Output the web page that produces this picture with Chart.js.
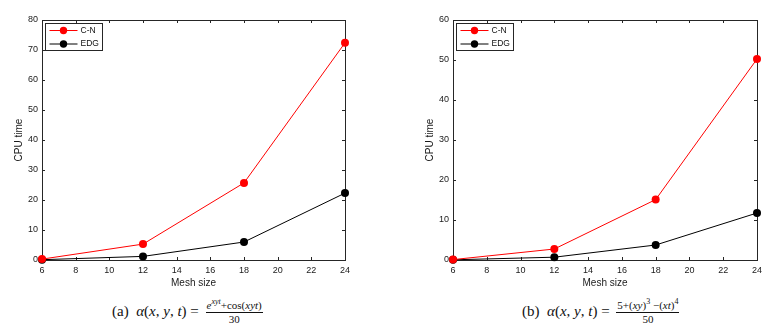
<!DOCTYPE html>
<html lang="en">
<head>
<meta charset="utf-8">
<script src="https://cdn.jsdelivr.net/npm/chart.js@4.4.1/dist/chart.umd.min.js"></script>
<style>
  body { margin: 0; background: #fff; width: 778px; height: 327px; position: relative; overflow: hidden; }
  canvas { position: absolute; top: 0; }
  #chartA { left: 0; }
  #chartB { left: 390px; }
  .cap { position: absolute; top: 299px; font-family: "Liberation Serif", "DejaVu Serif", serif;
         font-size: 15px; line-height: 24px; color: #111; white-space: nowrap; }
  .cap i { font-style: italic; }
  .frac { display: inline-block; vertical-align: middle; text-align: center; font-size: 11px; line-height: 11px; margin-left: 3px; }
  .frac .num { display: block; border-bottom: 1px solid #111; padding: 0 1px 1px; }
  .frac .den { display: block; padding-top: 1px; }
  .frac sup { font-size: 8px; line-height: 0; }
</style>
</head>
<body>
<canvas id="chartA" width="390" height="295"></canvas>
<canvas id="chartB" width="388" height="295"></canvas>
<div class="cap" style="left:112px;">(a)&nbsp;&nbsp;<i>α</i>(<i>x</i>, <i>y</i>, <i>t</i>) = <span class="frac"><span class="num"><i>e</i><sup><i>xyt</i></sup>+cos(<i>xyt</i>)</span><span class="den">30</span></span></div>
<div class="cap" style="left:522px;">(b)&nbsp;&nbsp;<i>α</i>(<i>x</i>, <i>y</i>, <i>t</i>) = <span class="frac"><span class="num">5+(<i>xy</i>)<sup>3</sup> −(<i>xt</i>)<sup>4</sup></span><span class="den">50</span></span></div>
<script>
// values
var meshSizes = [6, 12, 18, 24];
var cnA  = [0.3, 5.3, 25.7, 72.4];
var edgA = [0.1, 1.2, 6.0, 22.3];
var cnB  = [0.1, 2.75, 15.1, 50.25];
var edgB = [0.05, 0.7, 3.75, 11.75];
var seriesNames = ['C-N', 'EDG'];
var seriesColors = ['#ff0000', '#000000'];

var tickFont = { family: 'Liberation Sans, Arial, sans-serif', size: 9 };
var titleFont = { family: 'Liberation Sans, Arial, sans-serif', size: 10 };

// matlab-like box with inward ticks, and a legend inside the top-left corner
var frameAndLegend = {
  id: 'frameAndLegend',
  beforeDatasetsDraw: function(chart) {
    var ctx = chart.ctx, a = chart.chartArea, sx = chart.scales.x, sy = chart.scales.y;
    var tl = 3;
    ctx.save();
    ctx.strokeStyle = '#262626';
    ctx.lineWidth = 1;
    ctx.strokeRect(Math.round(a.left) + 0.5, Math.round(a.top) + 0.5,
                   Math.round(a.right - a.left), Math.round(a.bottom - a.top));
    ctx.beginPath();
    sx.ticks.forEach(function(t) {
      var px = Math.round(sx.getPixelForValue(t.value)) + 0.5;
      ctx.moveTo(px, a.bottom); ctx.lineTo(px, a.bottom - tl);
      ctx.moveTo(px, a.top); ctx.lineTo(px, a.top + tl);
    });
    sy.ticks.forEach(function(t) {
      var py = Math.round(sy.getPixelForValue(t.value)) + 0.5;
      ctx.moveTo(a.left, py); ctx.lineTo(a.left + tl, py);
      ctx.moveTo(a.right, py); ctx.lineTo(a.right - tl, py);
    });
    ctx.stroke();
    ctx.restore();
  },
  afterDatasetsDraw: function(chart) {
    var ctx = chart.ctx, a = chart.chartArea;
    var bx = Math.round(a.left) + 3.5, by = Math.round(a.top) + 3.5;
    ctx.save();
    ctx.fillStyle = '#fff';
    ctx.fillRect(bx, by, 57, 27);
    ctx.strokeStyle = '#262626';
    ctx.lineWidth = 1;
    ctx.strokeRect(bx, by, 57, 27);
    ctx.font = '8.5px Liberation Sans, Arial, sans-serif';
    ctx.textBaseline = 'middle';
    chart.data.datasets.forEach(function(ds, i) {
      var y = by + 7 + i * 13.5;
      ctx.strokeStyle = ds.borderColor;
      ctx.beginPath();
      ctx.moveTo(bx + 4, y); ctx.lineTo(bx + 32, y);
      ctx.stroke();
      ctx.fillStyle = ds.backgroundColor;
      ctx.beginPath();
      ctx.arc(bx + 18, y, 3.7, 0, Math.PI * 2);
      ctx.fill();
      ctx.fillStyle = '#111';
      ctx.fillText(ds.label, bx + 35, y);
    });
    ctx.restore();
  }
};

function makeChart(id, cn, edg, yMax, padRight, yWidth, yTitlePad) {
  var sets = [cn, edg].map(function(vals, k) {
    return {
      label: seriesNames[k],
      data: meshSizes.map(function(m, i) { return { x: m, y: vals[i] }; }),
      borderColor: seriesColors[k],
      backgroundColor: seriesColors[k],
      borderWidth: 1,
      pointRadius: 4,
      pointBorderWidth: 0,
      clip: false
    };
  });
  return new Chart(document.getElementById(id), {
    type: 'line',
    data: { datasets: sets },
    options: {
      responsive: false,
      animation: false,
      devicePixelRatio: 1,
      layout: { padding: { left: 0, right: padRight, top: 20, bottom: 0 } },
      plugins: { legend: { display: false }, tooltip: { enabled: false } },
      scales: {
        x: {
          type: 'linear', min: 6, max: 24,
          grid: { display: false, drawTicks: false, tickLength: 0 },
          border: { display: false },
          ticks: { stepSize: 2, font: tickFont, color: '#1a1a1a', padding: 5, maxRotation: 0 },
          title: { display: true, text: 'Mesh size', font: titleFont, color: '#1a1a1a', padding: { top: 0, bottom: 6 } },
          afterFit: function(s) { s.height = 35; }
        },
        y: {
          min: 0, max: yMax,
          grid: { display: false, drawTicks: false, tickLength: 0 },
          border: { display: false },
          ticks: { stepSize: 10, font: tickFont, color: '#1a1a1a', padding: 4 },
          title: { display: true, text: 'CPU time', font: titleFont, color: '#1a1a1a', padding: { top: yTitlePad, bottom: 0 } },
          afterFit: function(s) { s.width = yWidth; }
        }
      }
    },
    plugins: [frameAndLegend]
  });
}

makeChart('chartA', cnA, edgA, 80, 45, 42, 13);
makeChart('chartB', cnB, edgB, 60, 21, 63, 34);
</script>
</body>
</html>
